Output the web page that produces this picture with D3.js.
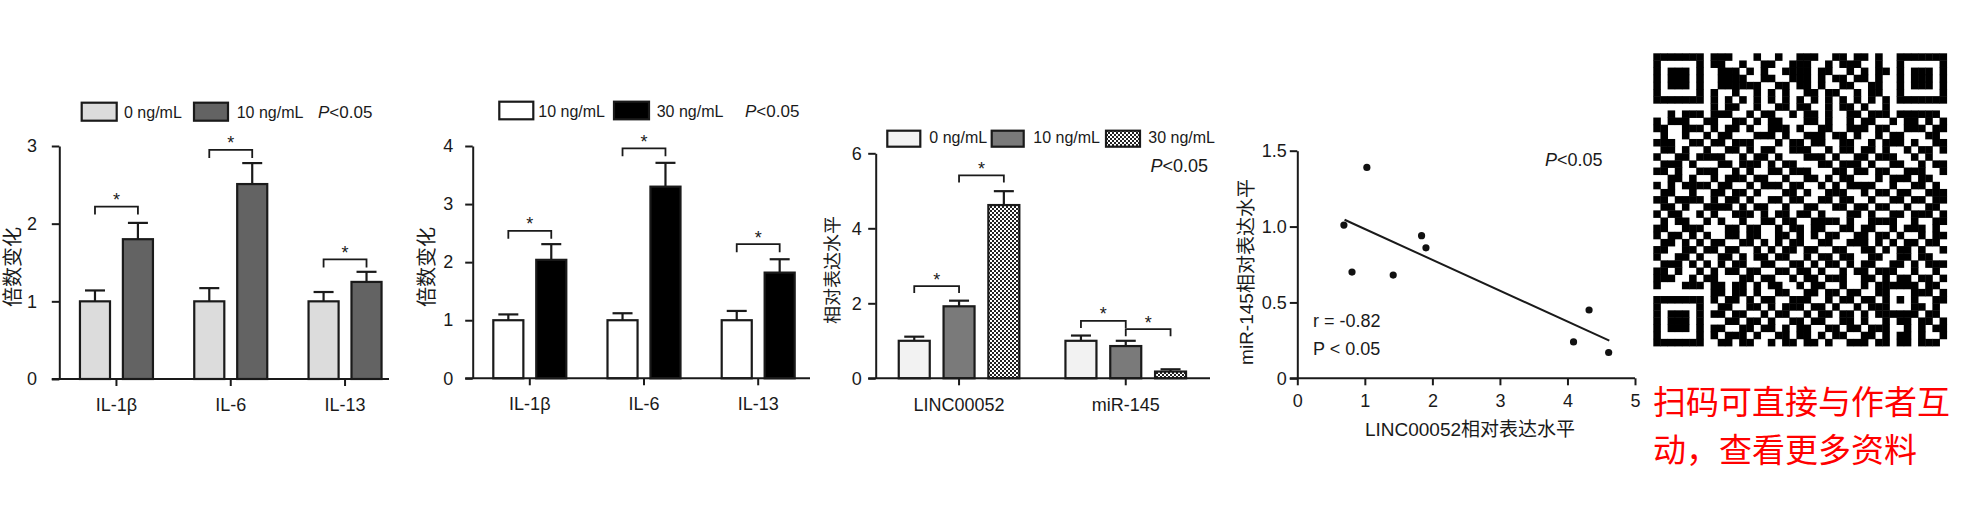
<!DOCTYPE html>
<html><head><meta charset="utf-8">
<script src="https://cdn.jsdelivr.net/npm/d3@7"></script>
<style>
html,body{margin:0;padding:0;background:#fff;}
svg{display:block;}
text{font-family:"Liberation Sans",Arial,sans-serif;fill:#1a1a1a;}
.cjk{font-family:"Liberation Sans","Noto Sans CJK SC",sans-serif;}
.red{font-family:"Noto Sans CJK SC",sans-serif;}
</style></head><body>
<svg id="chart" width="1967" height="524"></svg>
<script>
// ---------------- DATA ----------------
// Panel 1
const p1Categories = ["IL-1β", "IL-6", "IL-13"];
const p1Series = ["0 ng/mL", "10 ng/mL"];
const p1Values = [[1.0, 1.80], [1.0, 2.51], [1.0, 1.25]];
const p1Errors = [[0.14, 0.21], [0.17, 0.27], [0.12, 0.13]];
const p1Brackets = [2.22, 2.95, 1.54];
const p1Ticks = [0, 1, 2, 3];

// Panel 2
const p2Categories = ["IL-1β", "IL-6", "IL-13"];
const p2Series = ["10 ng/mL", "30 ng/mL"];
const p2Values = [[1.0, 2.04], [1.0, 3.30], [1.0, 1.82]];
const p2Errors = [[0.10, 0.27], [0.12, 0.41], [0.16, 0.23]];
const p2Brackets = [2.54, 3.96, 2.31];
const p2Ticks = [0, 1, 2, 3, 4];

// Panel 3
const p3Categories = ["LINC00052", "miR-145"];
const p3Series = ["0 ng/mL", "10 ng/mL", "30 ng/mL"];
const p3Values = [[1.0, 1.92, 4.62], [1.0, 0.86, 0.18]];
const p3Errors = [[0.11, 0.15, 0.37], [0.14, 0.14, 0.06]];
const p3BracketCat = [0, 0, 1, 1];
const p3BracketFrom = [0, 1, 0, 1];
const p3BracketTo = [1, 2, 1, 2];
const p3BracketY = [2.46, 5.41, 1.53, 1.31];
const p3Ticks = [0, 2, 4, 6];

// Panel 4 (scatter)
const p4X = [0.69, 1.03, 0.81, 1.42, 1.84, 1.905, 4.09, 4.32, 4.61];
const p4Y = [1.01, 1.39, 0.70, 0.68, 0.94, 0.86, 0.24, 0.45, 0.17];
const p4LineX = [0.70, 4.62];
const p4LineY = [1.045, 0.248];
const p4XTicks = [0, 1, 2, 3, 4, 5];
const p4YTicks = [0, 0.5, 1.0, 1.5];

// QR code modules (41 x 41)
const qrRows = [
  "1111111"+"0"+"1110001001001110011011010"+"0"+"1111111",
  "1000001"+"0"+"1100100110011100101110010"+"0"+"1000001",
  "1011101"+"0"+"0111010100111101100101011"+"0"+"1011101",
  "1011101"+"0"+"0111100110011101011011010"+"0"+"1011101",
  "1011101"+"0"+"011111100110"+"11010"+"01100110"+"0"+"1011101",
  "1000001"+"0"+"100100101010"+"01101"+"10010110"+"0"+"1000001",
  "1111111"+"0"+"1010101010101010101010101"+"0"+"1111111",
  "00000000"+"101100100110"+"11001"+"01101001"+"00000000",
  "001011101"+"11001011001"+"01101"+"00110111"+"01111110",
  "101110"+"0"+"1100110101100011010010110010110101",
  "110011"+"1"+"0101101001110100110011101100111011",
  "010010"+"0"+"1011000111010011101101001011000110",
  "111001"+"1"+"0110111000101101100110010111010011",
  "011010"+"0"+"1001101011001110010110110100101101",
  "100110"+"1"+"1110010110100011101001101110010100",
  "011101"+"0"+"0011011101011000110111010011001011",
  "110100"+"1"+"1100101001101110001101101100111001",
  "001101"+"0"+"0101110110010011010110001011101100",
  "101011"+"1"+"1011001011101100101011110010011010",
  "011001"+"0"+"0110110100011010011100101101100111",
  "110111"+"1"+"01"+"01101001101"+"10011"+"0110010"+"01101"+"1011",
  "011010"+"0"+"11"+"11010110010"+"01100"+"1101101"+"10010"+"0110",
  "101100"+"1"+"01"+"00111010110"+"11010"+"0011010"+"01101"+"1101",
  "010110"+"0"+"10"+"10010011011"+"00111"+"1010011"+"11001"+"0011",
  "110011"+"1"+"00"+"01101100101"+"10110"+"0110110"+"01011"+"1010",
  "101101"+"0"+"1001101100110101011001101101001011",
  "011010"+"1"+"0110011010101100110011101010110110",
  "110011"+"0"+"1101100101011011001100110101101001",
  "100110"+"1"+"0011010110110010110110011001101100",
  "011101"+"0"+"1010110011001101011010110011010111",
  "110100"+"1"+"0101101100110110100101101110010010",
  "111001"+"0"+"1100011011001011011100110101101101",
  "100011"+"1"+"0110110101100"+"10110"+"0100101"+"11111"+"0110",
  "0000000"+"0"+"1"+"10110100110"+"01101"+"1011001"+"10001"+"1101",
  "1111111"+"0"+"1"+"01101011001"+"11001"+"0110110"+"10101"+"0011",
  "1000001"+"0"+"0"+"11001101011"+"10110"+"1001011"+"10001"+"1010",
  "1011101"+"0"+"1"+"10110010110"+"01011"+"0110101"+"11111"+"0110",
  "1011101"+"0"+"0"+"01101101001101100110100101101101",
  "1011101"+"0"+"1"+"10011011010110011011011100101011",
  "1000001"+"0"+"1"+"01110100110110101100110101101001",
  "1111111"+"0"+"0"+"11011001011011010011101101101110"
];

const noteLines = ["扫码可直接与作者互", "动，查看更多资料"];

// ---------------- DRAWING ----------------
const svg = d3.select("#chart");
const INK = "#1a1a1a";

const defs = svg.append("defs");
const pat = defs.append("pattern").attr("id", "chk").attr("width", 4).attr("height", 4)
  .attr("patternUnits", "userSpaceOnUse");
pat.append("rect").attr("width", 4).attr("height", 4).attr("fill", "#fff");
pat.append("rect").attr("width", 2).attr("height", 2).attr("fill", "#222");
pat.append("rect").attr("x", 2).attr("y", 2).attr("width", 2).attr("height", 2).attr("fill", "#222");

function styleAxis(sel, fs) {
  sel.attr("font-family", null).attr("font-size", null);
  sel.selectAll("line").attr("stroke", INK).attr("stroke-width", 2);
  sel.selectAll("path").attr("stroke", INK).attr("stroke-width", 2);
  sel.selectAll("text").style("font-size", fs + "px").attr("fill", INK);
}

function barPanel(o) {
  const g = svg.append("g");
  const y = d3.scaleLinear().domain([0, o.max]).range([o.y0, o.yTop]);
  const x0 = d3.scaleBand().domain(o.categories)
    .range([o.axisX, o.axisX + o.step * o.categories.length]);
  const x1 = d3.scaleBand().domain(o.series).range([-o.inner, o.inner]).paddingInner(o.pad);
  const cx = c => x0(c) + x0.bandwidth() / 2;
  const bc = (c, s) => cx(c) + x1(s) + x1.bandwidth() / 2;

  const rows = [];
  o.categories.forEach((c, i) => o.series.forEach((s, j) =>
    rows.push({c, s, j, v: o.values[i][j], e: o.errors[i][j]})));

  g.selectAll("line.err").data(rows).join("line").attr("class", "err")
    .attr("x1", d => bc(d.c, d.s)).attr("x2", d => bc(d.c, d.s))
    .attr("y1", d => y(d.v)).attr("y2", d => y(d.v + d.e))
    .attr("stroke", INK).attr("stroke-width", 2.2);
  g.selectAll("line.cap").data(rows).join("line").attr("class", "cap")
    .attr("x1", d => bc(d.c, d.s) - o.cap / 2).attr("x2", d => bc(d.c, d.s) + o.cap / 2)
    .attr("y1", d => y(d.v + d.e)).attr("y2", d => y(d.v + d.e))
    .attr("stroke", INK).attr("stroke-width", 2.2);
  g.selectAll("rect.bar").data(rows).join("rect").attr("class", "bar")
    .attr("x", d => cx(d.c) + x1(d.s)).attr("width", x1.bandwidth())
    .attr("y", d => y(d.v)).attr("height", d => y(0) - y(d.v))
    .attr("fill", d => o.fills[d.j]).attr("stroke", INK).attr("stroke-width", 2.2);

  const ya = g.append("g").attr("transform", `translate(${o.axisX},0)`)
    .call(d3.axisLeft(y).tickValues(o.ticks).tickSize(7.5).tickPadding(o.tickPad)
      .tickSizeOuter(0).tickFormat(d3.format("d")));
  styleAxis(ya, 18);
  const xa = g.append("g").attr("transform", `translate(0,${o.y0})`)
    .call(d3.axisBottom(x0).tickSize(7).tickPadding(o.xPad).tickSizeOuter(0));
  xa.select(".domain").remove();
  styleAxis(xa, 18);
  g.append("line").attr("x1", o.axisX - 7.5).attr("x2", o.xEnd)
    .attr("y1", o.y0).attr("y2", o.y0).attr("stroke", INK).attr("stroke-width", 2);

  o.brackets.forEach(b => {
    const xa_ = bc(o.categories[b.c], o.series[b.a]);
    const xb_ = bc(o.categories[b.c], o.series[b.b]);
    const yy = y(b.v);
    g.append("path")
      .attr("d", `M${xa_},${yy + o.leg}V${yy}H${xb_}V${yy + o.leg}`)
      .attr("fill", "none").attr("stroke", INK).attr("stroke-width", 1.8);
    g.append("text").attr("x", (xa_ + xb_) / 2).attr("y", yy - 0.5)
      .attr("text-anchor", "middle").style("font-size", "18px").text("*");
  });

  g.append("text").attr("class", "cjk")
    .attr("transform", `translate(${o.labelX},${o.labelY}) rotate(-90)`)
    .attr("text-anchor", "middle").attr("dominant-baseline", "central")
    .style("font-size", o.labelSize + "px").text(o.label);

  o.legend.forEach((L, j) => {
    g.append("rect").attr("x", L.x).attr("y", o.legY).attr("width", L.w).attr("height", o.legH)
      .attr("fill", o.fills[j]).attr("stroke", INK).attr("stroke-width", 2.2);
    g.append("text").attr("x", L.tx).attr("y", o.legBase).style("font-size", "16px")
      .text(o.series[j]);
  });
  return g;
}

function pText(g, x, y, fs, anchor) {
  const t = g.append("text").attr("x", x).attr("y", y).style("font-size", fs + "px")
    .attr("text-anchor", anchor || "start");
  t.append("tspan").style("font-style", "italic").text("P");
  t.append("tspan").text("<0.05");
}

const g1 = barPanel({
  categories: p1Categories, series: p1Series, values: p1Values, errors: p1Errors,
  fills: ["#dcdcdc", "#636363"], max: 3, ticks: p1Ticks,
  y0: 379, yTop: 146, axisX: 59.3, step: 114.3, xEnd: 389, inner: 36.5, pad: 0.3,
  cap: 20, tickPad: 14.8, xPad: 12.2, leg: 8,
  brackets: p1Brackets.map((v, i) => ({c: i, a: 0, b: 1, v})),
  label: "倍数变化", labelX: 13, labelY: 267, labelSize: 20,
  legend: [{x: 81.7, w: 35, tx: 124}, {x: 194, w: 34, tx: 236.7}],
  legY: 102.7, legH: 18, legBase: 118
});
pText(g1, 318, 118, 17);

const g2 = barPanel({
  categories: p2Categories, series: p2Series, values: p2Values, errors: p2Errors,
  fills: ["#ffffff", "#000000"], max: 4, ticks: p2Ticks,
  y0: 378.3, yTop: 146, axisX: 472.7, step: 114.2, xEnd: 810, inner: 36.5, pad: 0.3,
  cap: 20, tickPad: 11.9, xPad: 12.2, leg: 8,
  brackets: p2Brackets.map((v, i) => ({c: i, a: 0, b: 1, v})),
  label: "倍数变化", labelX: 427, labelY: 267, labelSize: 20,
  legend: [{x: 499.3, w: 34, tx: 538.3}, {x: 614, w: 35, tx: 656.7}],
  legY: 101.7, legH: 17.6, legBase: 117.3
});
pText(g2, 745, 117.3, 17);

const g3 = barPanel({
  categories: p3Categories, series: p3Series, values: p3Values, errors: p3Errors,
  fills: ["#f2f2f2", "#7a7a7a", "url(#chk)"], max: 6, ticks: p3Ticks,
  y0: 378.3, yTop: 153.3, axisX: 875.7, step: 166.7, xEnd: 1210, inner: 60.3, pad: 0.308,
  cap: 20, tickPad: 6.5, xPad: 12.9, leg: 7,
  brackets: p3BracketY.map((v, i) => ({c: p3BracketCat[i], a: p3BracketFrom[i], b: p3BracketTo[i], v})),
  label: "相对表达水平", labelX: 833, labelY: 270, labelSize: 18,
  legend: [{x: 887.3, w: 33, tx: 929.3}, {x: 991.7, w: 32, tx: 1033.3}, {x: 1106, w: 34, tx: 1148.3}],
  legY: 130.7, legH: 16, legBase: 143.3
});
pText(g3, 1208, 171.5, 18, "end");

(function () {
  const g = svg.append("g");
  const x = d3.scaleLinear().domain([0, 5]).range([1297.3, 1635]);
  const y = d3.scaleLinear().domain([0, 1.5]).range([378.3, 150.7]);
  const ya = g.append("g").attr("transform", `translate(${x(0)},0)`)
    .call(d3.axisLeft(y).tickValues(p4YTicks).tickSize(7.5).tickPadding(3.1).tickSizeOuter(0)
      .tickFormat(d => d === 0 ? "0" : d3.format(".1f")(d)));
  styleAxis(ya, 18);
  const xa = g.append("g").attr("transform", `translate(0,${y(0)})`)
    .call(d3.axisBottom(x).tickValues(p4XTicks).tickSize(7).tickPadding(8.6).tickSizeOuter(0)
      .tickFormat(d3.format("d")));
  xa.select(".domain").remove();
  styleAxis(xa, 18);
  g.append("line").attr("x1", x(0) - 7.5).attr("x2", x(5)).attr("y1", y(0)).attr("y2", y(0))
    .attr("stroke", INK).attr("stroke-width", 2);

  const line = d3.line().x(d => x(d[0])).y(d => y(d[1]));
  g.append("path").datum(p4LineX.map((v, i) => [v, p4LineY[i]]))
    .attr("d", line).attr("fill", "none").attr("stroke", INK).attr("stroke-width", 2);
  g.selectAll("circle").data(p4X.map((v, i) => [v, p4Y[i]])).join("circle")
    .attr("cx", d => x(d[0])).attr("cy", d => y(d[1])).attr("r", 3.6).attr("fill", "#111");

  pText(g, 1545, 166, 18);
  g.append("text").attr("x", 1313).attr("y", 326.5).style("font-size", "18px").text("r = -0.82");
  g.append("text").attr("x", 1313).attr("y", 355).style("font-size", "18px").text("P < 0.05");

  g.append("text").attr("class", "cjk").attr("x", 1470).attr("y", 436)
    .attr("text-anchor", "middle").style("font-size", "19px").text("LINC00052相对表达水平");
  g.append("text").attr("class", "cjk")
    .attr("transform", `translate(1246.7,272) rotate(-90)`)
    .attr("text-anchor", "middle").attr("dominant-baseline", "central")
    .style("font-size", "19px").text("miR-145相对表达水平");
})();

(function () {
  const n = qrRows.length;
  const qx = d3.scaleBand().domain(d3.range(n)).range([1653.3, 1946.7]);
  const qy = d3.scaleBand().domain(d3.range(n)).range([53.3, 346]);
  const cells = [];
  qrRows.forEach((row, r) => row.split("").forEach((ch, c) => { if (ch === "1") cells.push([r, c]); }));
  svg.append("g").selectAll("rect").data(cells).join("rect")
    .attr("x", d => qx(d[1])).attr("y", d => qy(d[0]))
    .attr("width", qx.bandwidth() + 0.4).attr("height", qy.bandwidth() + 0.4)
    .attr("fill", "#000");
})();

svg.append("g").selectAll("text").data(noteLines).join("text").attr("class", "red")
  .attr("x", 1653).attr("y", (d, i) => 414 + i * 48)
  .style("font-size", "33px").style("fill", "#ff0000").text(d => d);
</script></body></html>
